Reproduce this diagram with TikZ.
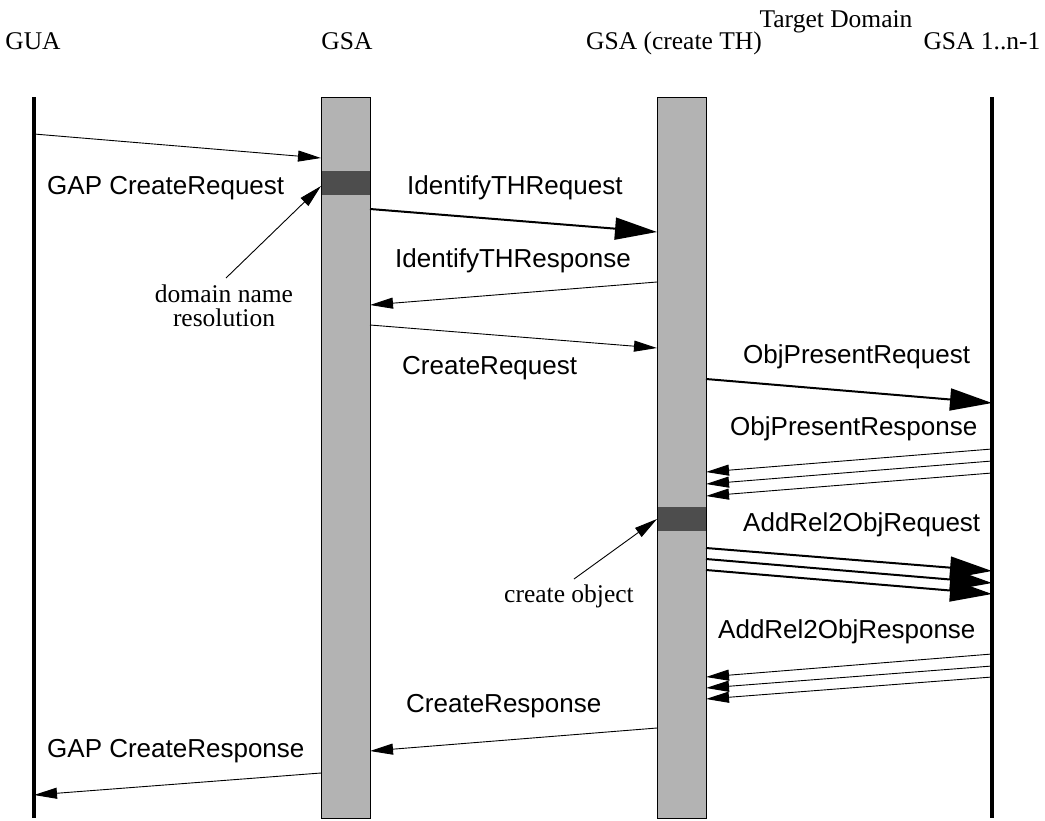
\documentclass[tikz,border=0pt]{standalone}
\usepackage{fontspec}
\setmainfont{Liberation Serif}
\newfontfamily\lblfont{Liberation Sans}
\usetikzlibrary{arrows.meta}
\definecolor{bargray}{RGB}{179,179,179}
\definecolor{darkbox}{RGB}{77,77,77}
\tikzset{
  title/.style={font=\fontsize{25.5}{25.5}\selectfont, anchor=base, inner sep=0pt},
  msg/.style={font=\lblfont\fontsize{26}{26}\selectfont, anchor=base west, inner sep=0pt},
  note/.style={font=\fontsize{25.5}{24}\selectfont, align=center, inner sep=0pt, anchor=base},
  bar/.style={draw=black, line width=0.9pt, fill=bargray, inner sep=0pt, minimum width=49pt, minimum height=721pt, anchor=north},
  busy/.style={fill=darkbox, inner sep=0pt, minimum width=48pt, minimum height=24pt, anchor=north},
  life/.style={line width=3.3pt},
  msgthin/.style={line width=0.9pt, -{Triangle[length=23pt,width=11pt]}},
  msgthick/.style={line width=2pt, -{Triangle[length=42pt,width=22pt]}},
}
\begin{document}
\begin{tikzpicture}[x=1pt,y=-1pt]
\useasboundingbox (0,0) rectangle (1045,820);
% titles
\node[title] (tgua) at (33,49) {GUA};
\node[title] (tgsa) at (347,49) {GSA};
\node[title] (tth) at (674,49) {GSA (create TH)};
\node[title] (tn) at (982,49) {GSA 1..n-1};
\node[title] (tdom) at (836,27) {Target Domain};
% lifelines
\coordinate (guaTop) at (34,97);
\coordinate (guaBot) at (34,818);
\coordinate (nTop) at (992,97);
\coordinate (nBot) at (992,818);
\draw[life] (guaTop) -- (guaBot);
\draw[life] (nTop) -- (nBot);
\node[bar] (gsa) at (345.5,97) {};
\node[bar] (th) at (681.5,97) {};
\node[busy] (busy1) at (345.5,171) {};
\node[busy] (busy2) at (681.5,507) {};
% endpoints
\coordinate (a1) at (34,134);   \coordinate (b1) at (321,158);
\coordinate (a2) at (370,209);  \coordinate (b2) at (657,232);
\coordinate (a3) at (657,282);  \coordinate (b3) at (370,305);
\coordinate (a4) at (370,325);  \coordinate (b4) at (657,348);
\coordinate (a5) at (706,379);  \coordinate (b5) at (992,403);
\coordinate (a6) at (992,449);  \coordinate (b6) at (706,472);
\coordinate (a7) at (992,461);  \coordinate (b7) at (706,484);
\coordinate (a8) at (992,473);  \coordinate (b8) at (706,496);
\coordinate (a9) at (706,548);  \coordinate (b9) at (992,571);
\coordinate (a10) at (706,559); \coordinate (b10) at (992,583);
\coordinate (a11) at (706,570); \coordinate (b11) at (992,594);
\coordinate (a12) at (992,654); \coordinate (b12) at (706,677);
\coordinate (a13) at (992,666); \coordinate (b13) at (706,688);
\coordinate (a14) at (992,677); \coordinate (b14) at (706,699);
\coordinate (a15) at (657,728); \coordinate (b15) at (370,751);
\coordinate (a16) at (321,773); \coordinate (b16) at (34,795);
% messages
\draw[msgthin] (a1) -- (b1);
\draw[msgthick] (a2) -- (b2);
\draw[msgthin] (a3) -- (b3);
\draw[msgthin] (a4) -- (b4);
\draw[msgthick] (a5) -- (b5);
\draw[msgthin] (a6) -- (b6);
\draw[msgthin] (a7) -- (b7);
\draw[msgthin] (a8) -- (b8);
\draw[msgthick] (a9) -- (b9);
\draw[msgthick] (a10) -- (b10);
\draw[msgthick] (a11) -- (b11);
\draw[msgthin] (a12) -- (b12);
\draw[msgthin] (a13) -- (b13);
\draw[msgthin] (a14) -- (b14);
\draw[msgthin] (a15) -- (b15);
\draw[msgthin] (a16) -- (b16);
% labels
\node[msg] (l1) at (47,194) {GAP CreateRequest};
\node[msg] (l2) at (407,194) {IdentifyTHRequest};
\node[msg] (l3) at (395,267) {IdentifyTHResponse};
\node[msg] (l4) at (402,374) {CreateRequest};
\node[msg] (l5) at (743,363) {ObjPresentRequest};
\node[msg] (l6) at (730,435) {ObjPresentResponse};
\node[msg] (l7) at (743,531) {AddRel2ObjRequest};
\node[msg] (l8) at (718,638) {AddRel2ObjResponse};
\node[msg] (l9) at (406,712) {CreateResponse};
\node[msg] (l10) at (47,757) {GAP CreateResponse};
% notes
\node[note] (n1) at (224,326) {domain name\\resolution};
\node[note] (n2) at (569,602) {create object};
\coordinate (n1tail) at (226,278);
\coordinate (n1tip) at (321,186);
\coordinate (n2tail) at (574,579);
\coordinate (n2tip) at (657,519);
\draw[msgthin] (n1tail) -- (n1tip);
\draw[msgthin] (n2tail) -- (n2tip);
\end{tikzpicture}
\end{document}
